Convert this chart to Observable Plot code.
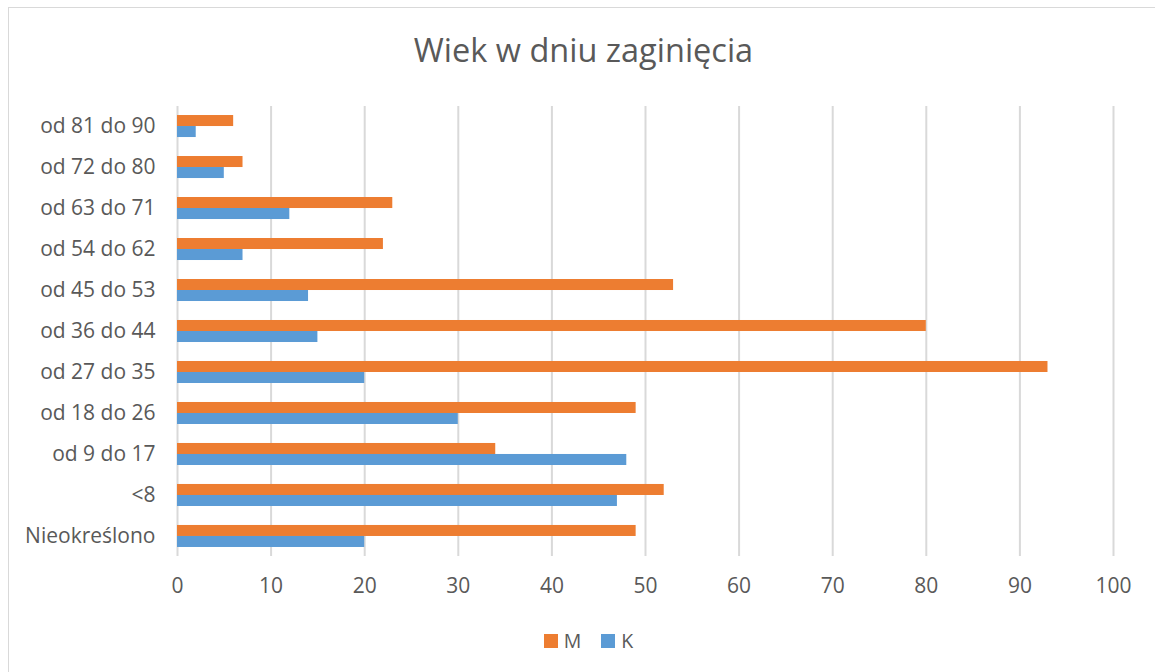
<!DOCTYPE html>
<html>
<head>
<meta charset="utf-8">
<script src="https://cdn.jsdelivr.net/npm/d3@7"></script>
<script src="https://cdn.jsdelivr.net/npm/@observablehq/plot@0.6"></script>
<style>
  html, body { margin: 0; padding: 0; background: #fff; }
  #wrap { position: relative; width: 1155px; height: 672px; overflow: hidden; font-family: "Open Sans", sans-serif; color: #595959; }
  #frame { position: absolute; left: 8px; top: 7px; width: 1160px; height: 680px; border: 1px solid #D9D9D9; box-sizing: border-box; }
  #title { position: absolute; left: 0; width: 1167px; top: 28px; text-align: center; font-size: 32.5px; line-height: 44px; }
  #chart { position: absolute; left: 0; top: 0; }
  #legend { position: absolute; top: 628px; left: 0; width: 1177px; display: flex; justify-content: center; gap: 20px; font-size: 19.5px; line-height: 26px; }
  .item { display: flex; align-items: center; gap: 6px; }
  .sw { width: 14px; height: 14px; display: inline-block; }
</style>
</head>
<body>
<div id="wrap">
  <div id="frame"></div>
  <div id="title">Wiek w dniu zaginięcia</div>
  <div id="chart"></div>
  <div id="legend"></div>
</div>
<script>
const categories = ["Nieokreślono", "<8", "od 9 do 17", "od 18 do 26", "od 27 do 35", "od 36 do 44", "od 45 do 53", "od 54 do 62", "od 63 do 71", "od 72 do 80", "od 81 do 90"];
const seriesNames = ["M", "K"];
const valuesM = [49, 52, 34, 49, 93, 80, 53, 22, 23, 7, 6];
const valuesK = [20, 47, 48, 30, 20, 15, 14, 7, 12, 5, 2];
const xTicks = [0, 10, 20, 30, 40, 50, 60, 70, 80, 90, 100];
const colors = ["#ED7D31", "#5B9BD5"];

const dataM = categories.map((c, i) => ({category: c, value: valuesM[i], series: "M"}));
const dataK = categories.map((c, i) => ({category: c, value: valuesK[i], series: "K"}));

const chart = Plot.plot({
  width: 1155,
  height: 672,
  marginTop: 106,
  marginBottom: 116,
  marginLeft: 177,
  marginRight: 42,
  style: {fontFamily: "'Open Sans', sans-serif", fontSize: "21px", color: "#595959", background: "transparent"},
  x: {domain: [0, 100], ticks: xTicks, tickSize: 0, tickPadding: 22, label: null},
  y: {domain: categories.slice().reverse(), paddingInner: 0.463, paddingOuter: 0.22, round: false, tickSize: 0, tickPadding: 22, label: null},
  color: {domain: seriesNames, range: colors},
  marks: [
    Plot.ruleX(xTicks, {x: d => d, stroke: "#D9D9D9", strokeWidth: 2, strokeOpacity: 1}),
    Plot.barX(dataM, {x: "value", y: "category", fill: "series", insetBottom: 11}),
    Plot.barX(dataK, {x: "value", y: "category", fill: "series", insetTop: 11})
  ]
});
document.getElementById("chart").appendChild(chart);

const legend = document.getElementById("legend");
seriesNames.forEach((s, i) => {
  const item = document.createElement("div");
  item.className = "item";
  const sw = document.createElement("span");
  sw.className = "sw";
  sw.style.background = colors[i];
  const label = document.createElement("span");
  label.textContent = s;
  item.appendChild(sw);
  item.appendChild(label);
  legend.appendChild(item);
});
</script>
</body>
</html>
